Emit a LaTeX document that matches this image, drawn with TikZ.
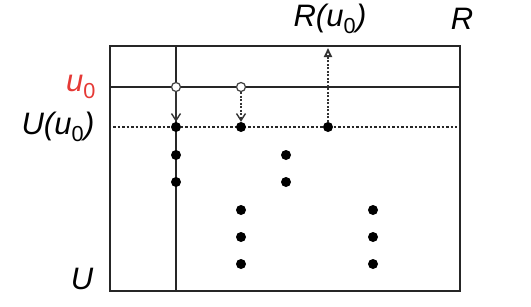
\documentclass[tikz,border=0pt]{standalone}
\usepackage{fontspec}
\setmainfont{Liberation Sans}
\usetikzlibrary{arrows.meta, positioning}
\definecolor{startred}{HTML}{E53935}
\tikzset{
    dot/.style={
        circle, fill=black, inner sep=0pt, minimum size=10pt
    },
    hollow/.style={
        circle, draw=black!75, line width=1.2pt, fill=white,
        inner sep=0pt, minimum size=9pt
    },
    axislabel/.style={
        inner sep=0pt, font=\fontsize{31}{34}\selectfont\itshape
    },
    frame/.style={
        line width=2.4pt, draw=black!85
    },
    levelline/.style={
        dash pattern=on 2.5pt off 2pt, line width=2pt, draw=black!85
    },
    fallarrow/.style={
        -{Straight Barb[length=7pt, width=9pt]}, line width=1.4pt, draw=black!80
    },
    risearrow/.style={
        -{Triangle[open, length=9pt, width=8pt]}, dash pattern=on 2pt off 1.5pt,
        line width=1.8pt, draw=black!80
    }
}
\newcommand{\subnull}{\textsubscript{\upshape 0}}

\begin{document}
\begin{tikzpicture}[x=1pt, y=-1pt]

    \useasboundingbox (0,0) rectangle (531,306);

    % frame and the two axes
    \draw[frame] (110,46) rectangle (460,291);
    \draw[frame] (110,87)  -- (460,87);
    \draw[frame] (176,46)  -- (176,291);
    \draw[levelline] (113,127) -- (457,127);

    % labels
    \node[axislabel]                  (rlab)  at (330,19)  {R(u\subnull)};
    \node[axislabel]                  (rset)  at (462,19)  {R};
    \node[axislabel, text=startred]   (ulab)  at (81,87)   {u\subnull};
    \node[axislabel]                  (uulab) at (58,127)  {U(u\subnull)};
    \node[axislabel]                  (uset)  at (82,279)  {U};

    % points
    \node[hollow] (p0) at (176,87)  {};
    \node[hollow] (p1) at (241,87)  {};
    \node[dot]    (a1) at (176,127) {};
    \node[dot]    (a2) at (176,155) {};
    \node[dot]    (a3) at (176,182) {};
    \node[dot]    (b1) at (241,127) {};
    \node[dot]    (c1) at (286,155) {};
    \node[dot]    (c2) at (286,182) {};
    \node[dot]    (d1) at (328,127) {};
    \foreach \y [count=\i] in {210,237,264} {
        \node[dot] (e\i) at (241,\y) {};
        \node[dot] (f\i) at (373,\y) {};
    }
    \coordinate (rtop) at (328,48);

    % arrows
    \draw[fallarrow] (p0) -- (a1);
    \draw[fallarrow, dash pattern=on 2pt off 1.5pt] (p1) -- (b1);
    \draw[risearrow] (d1) -- (rtop);

\end{tikzpicture}
\end{document}
